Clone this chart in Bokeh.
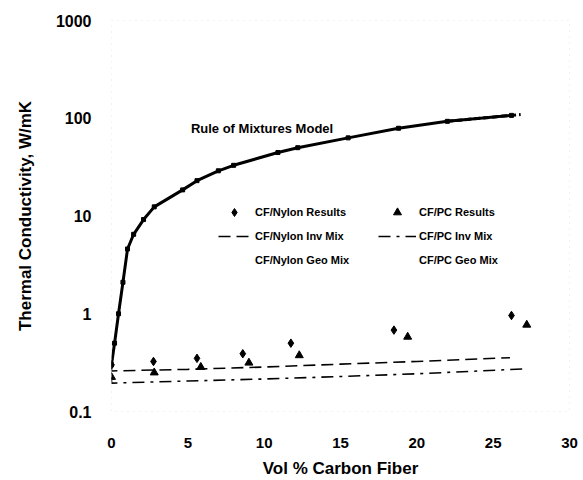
from bokeh.plotting import figure
from bokeh.models import (Range1d, FixedTicker, CustomJSTickFormatter, Legend, LegendItem,
                          Label)
from bokeh.embed import file_html
from bokeh.resources import INLINE

# ---- data ----
rom_x = [0, 0.2, 0.46, 0.75, 1.05, 1.45, 2.1, 2.8, 4.66, 5.6, 7, 8, 10.9, 12.2, 15.5, 18.8, 22, 26.2]
rom_y = [0.3, 0.5, 1.0, 2.1, 4.6, 6.5, 9.2, 12.4, 18.5, 23, 29, 33, 44.6, 50, 63, 79, 93, 107]
rom_pc_x = [22, 26.2, 26.8]
rom_pc_y = [93, 107, 109]

nylon_x = [0, 2.75, 5.6, 8.6, 11.75, 18.5, 26.2]
nylon_y = [0.3, 0.325, 0.35, 0.39, 0.5, 0.68, 0.96]
pc_x = [0, 2.8, 5.85, 9.0, 12.3, 19.4, 27.2]
pc_y = [0.225, 0.25, 0.285, 0.315, 0.375, 0.58, 0.77]

nylon_inv_x = [0, 0, 5, 10, 15, 20, 26.1]
nylon_inv_y = [0.3, 0.26, 0.27, 0.285, 0.305, 0.325, 0.355]
pc_inv_x = [0, 0, 5, 10, 15, 20, 27.1]
pc_inv_y = [0.225, 0.195, 0.205, 0.215, 0.228, 0.243, 0.273]

x_ticks = [0, 5, 10, 15, 20, 25, 30]
y_ticks = [0.1, 1, 10, 100, 1000]

FONT = "Liberation Sans"

p = figure(width=583, height=480, output_backend="svg", toolbar_location=None,
           y_axis_type="log", x_range=Range1d(0, 30), y_range=Range1d(0.1, 1000),
           min_border_left=111, min_border_right=14, min_border_top=20, min_border_bottom=62)
p.background_fill_color = "white"
p.border_fill_color = "white"
p.outline_line_color = "#e4e4e4"
p.outline_line_dash = "1 5"
p.xgrid.visible = False
p.ygrid.visible = False

for ax in (p.xaxis[0], p.yaxis[0]):
    ax.axis_line_color = None
    ax.major_tick_line_color = None
    ax.minor_tick_line_color = None
    ax.major_label_text_font = FONT
    ax.major_label_text_font_style = "bold"
    ax.major_label_text_color = "black"
    ax.axis_label_text_font = FONT
    ax.axis_label_text_font_style = "bold"
    ax.axis_label_text_color = "black"
    ax.axis_label_text_font_size = "17px"

p.xaxis.ticker = FixedTicker(ticks=x_ticks)
p.yaxis.ticker = FixedTicker(ticks=y_ticks, minor_ticks=[])
p.yaxis.formatter = CustomJSTickFormatter(code="return tick.toString();")
p.xaxis.major_label_text_font_size = "15px"
p.yaxis.major_label_text_font_size = "16px"
p.xaxis.major_label_standoff = 20
p.yaxis.major_label_standoff = 14
p.xaxis.axis_label = "Vol % Carbon Fiber"
p.yaxis.axis_label = "Thermal Conductivity, W/mK"
p.xaxis.axis_label_standoff = 8
p.yaxis.axis_label_standoff = 18

# rule of mixtures
p.line(rom_x, rom_y, line_color="black", line_width=3)
p.line(rom_pc_x, rom_pc_y, line_color="black", line_width=3, line_dash="6 3")
p.scatter(rom_x, rom_y, marker="square", size=4, color="black")

r_ninv = p.line(nylon_inv_x, nylon_inv_y, line_color="black", line_width=1.6, line_dash="12 6")
r_pinv = p.line(pc_inv_x, pc_inv_y, line_color="black", line_width=1.6, line_dash="12 6 3 6")
r_nyl = p.scatter(nylon_x, nylon_y, marker="diamond", size=8.5, color="black")
r_pc = p.scatter(pc_x, pc_y, marker="triangle", size=8, color="black")
r_ngeo = p.line(x=[], y=[], line_alpha=0)
r_pgeo = p.line(x=[], y=[], line_alpha=0)

p.add_layout(Label(x=5.2, y=78, text="Rule of Mixtures Model", text_font=FONT,
                   text_font_style="bold", text_font_size="13px", text_baseline="middle",
                   text_color="black"))

def make_legend(items, loc, gw, standoff):
    lg = Legend(items=items, location=loc, orientation="vertical",
                glyph_width=gw, glyph_height=20, label_height=20, spacing=4,
                padding=0, margin=0, label_standoff=standoff,
                label_text_font=FONT, label_text_font_style="bold",
                label_text_font_size="11px", label_text_color="black",
                border_line_color=None, background_fill_alpha=0)
    return lg

leg1 = make_legend([LegendItem(label="CF/Nylon Results", renderers=[r_nyl]),
                    LegendItem(label="CF/Nylon Inv Mix", renderers=[r_ninv]),
                    LegendItem(label="CF/Nylon Geo Mix", renderers=[r_ngeo])],
                   (107, 141.5), 32, 5)
leg2 = make_legend([LegendItem(label="CF/PC Results", renderers=[r_pc]),
                    LegendItem(label="CF/PC Inv Mix", renderers=[r_pinv]),
                    LegendItem(label="CF/PC Geo Mix", renderers=[r_pgeo])],
                   (267, 141.5), 38, 3)
p.add_layout(leg1)
p.add_layout(leg2)

open("out.html", "w").write(file_html(p, INLINE))
